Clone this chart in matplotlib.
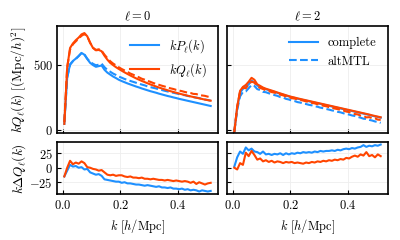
import numpy as np
import matplotlib
matplotlib.use("Agg")
import matplotlib.pyplot as plt
from matplotlib.lines import Line2D

# k bins [h/Mpc]
k = np.round(np.arange(0.005, 0.52, 0.01), 3)

# ell = 0, complete sample
kP0 = [45, 400, 505, 530, 548, 568, 592, 578, 545, 515, 498, 485, 490, 495, 462, 440, 425, 410,
       398, 385, 375, 366, 357, 349, 341, 333, 326, 318, 311, 304, 297, 291, 285, 278, 272, 266,
       260, 255, 249, 244, 238, 233, 228, 223, 218, 213, 208, 203, 198, 193, 188, 183]
kQ0 = [45, 480, 630, 665, 690, 710, 735, 745, 720, 670, 630, 612, 615, 605, 570, 540, 515, 498,
       482, 468, 455, 442, 430, 418, 407, 396, 386, 376, 367, 358, 349, 341, 333, 325, 318, 311,
       304, 297, 291, 285, 279, 273, 268, 262, 257, 252, 247, 242, 237, 232, 228, 224]
# complete - altMTL, ell = 0
dP0 = [-15, -5, 5, 2, 3, 0, 1, -3, -2, -8, -10, -12, -11, -14, -20, -21, -22, -23, -24, -24,
       -26, -25, -27, -27, -28, -29, -29, -30, -31, -30, -31, -32, -33, -32, -34, -34, -35, -34,
       -36, -36, -37, -36, -38, -37, -39, -38, -39, -41, -39, -40, -41, -40]
dQ0 = [-15, 0, 12, 6, 9, 7, 11, 8, 1, 0, -2, -3, -5, -4, -8, -12, -13, -12, -14, -13, -13, -15,
       -16, -15, -17, -17, -18, -17, -19, -19, -20, -19, -20, -21, -21, -22, -21, -22, -23, -22,
       -23, -24, -23, -24, -26, -24, -28, -25, -27, -29, -27, -26]

# ell = 2, complete sample
kP2 = [-15, 170, 285, 315, 330, 350, 378, 365, 340, 330, 320, 312, 305, 298, 291, 284, 277, 270,
       263, 256, 250, 245, 239, 234, 229, 224, 219, 214, 209, 204, 199, 194, 189, 184, 179, 174,
       169, 164, 159, 154, 149, 144, 139, 134, 129, 124, 119, 114, 108, 103, 98, 93]
kQ2 = [-15, 175, 300, 330, 345, 370, 400, 385, 350, 338, 325, 316, 309, 302, 295, 287, 280, 273,
       266, 259, 253, 248, 242, 237, 232, 227, 222, 217, 212, 207, 202, 197, 192, 187, 182, 177,
       172, 167, 162, 157, 152, 147, 142, 137, 132, 127, 122, 117, 111, 106, 101, 96]
# complete - altMTL, ell = 2
dP2 = [2, 18, 28, 24, 35, 30, 33, 28, 27, 24, 28, 23, 24, 22, 24, 23, 25, 22, 25, 23, 25, 24,
       26, 25, 27, 26, 27, 26, 28, 27, 29, 28, 29, 29, 30, 29, 31, 30, 32, 33, 32, 34, 33, 35,
       36, 39, 36, 38, 37, 39, 38, 40]
dQ2 = [0, -3, 8, 5, 26, 20, 29, 22, 14, 16, 11, 13, 10, 12, 9, 11, 10, 8, 10, 9, 10, 8, 9, 8,
       7, 9, 8, 10, 9, 11, 10, 12, 11, 13, 12, 14, 13, 15, 14, 17, 16, 19, 21, 19, 23, 21, 27,
       20, 22, 18, 23, 20]

blue = "#1E90FF"
orange = "#FF4500"

plt.rcParams["font.family"] = "serif"
plt.rcParams["font.serif"] = ["cmr10"]
plt.rcParams["mathtext.fontset"] = "cm"
plt.rcParams["axes.formatter.use_mathtext"] = True
plt.rcParams["font.size"] = 9

fig, axes = plt.subplots(2, 2, figsize=(4, 2.4), dpi=100, sharex=True,
                         gridspec_kw=dict(height_ratios=[107, 52]))
fig.subplots_adjust(left=0.1425, right=0.97, top=0.892, bottom=0.19, wspace=0.056, hspace=0.113)

data = [(kP0, kQ0, dP0, dQ0), (kP2, kQ2, dP2, dQ2)]
for j, (P, Q, dP, dQ) in enumerate(data):
    P = np.array(P, float)
    Q = np.array(Q, float)
    dP = np.array(dP, float)
    dQ = np.array(dQ, float)
    ax = axes[0, j]
    ax.plot(k, P, color=blue, lw=1.5, label=r"$kP_\ell(k)$")
    ax.plot(k, P - dP, color=blue, lw=1.5, ls="--")
    ax.plot(k, Q, color=orange, lw=1.5, label=r"$kQ_\ell(k)$")
    ax.plot(k, Q - dQ, color=orange, lw=1.5, ls="--")
    ax.set_ylim(-27, 800)
    ax.set_yticks([0, 500])
    ax.set_title(r"$\ell=%d$" % (2 * j), fontsize=9, pad=4)

    axb = axes[1, j]
    axb.plot(k, dP, color=blue, lw=1.5)
    axb.plot(k, dQ, color=orange, lw=1.5)
    axb.set_ylim(-46, 44)
    axb.set_yticks([-25, 0, 25])
    axb.set_xlabel(r"$k\ [h/\mathrm{Mpc}]$", fontsize=9)
    axb.set_xticks([0.0, 0.2, 0.4])

for ax in axes.flat:
    ax.grid(True, color="#eeeeee", lw=0.6)
    ax.tick_params(direction="in", length=3, width=0.8, labelsize=9, pad=3)
    for s in ax.spines.values():
        s.set_linewidth(1.2)

axes[0, 1].tick_params(labelleft=False)
axes[1, 1].tick_params(labelleft=False)

axes[0, 0].legend(loc="upper right", frameon=False, fontsize=9, handlelength=2.3)
h = [Line2D([], [], color=blue, lw=1.5), Line2D([], [], color=blue, lw=1.5, ls="--")]
axes[0, 1].legend(h, ["complete", "altMTL"], loc="upper right", frameon=False, fontsize=9,
                  handlelength=2.3)

axes[0, 0].set_ylabel(r"$kQ_\ell(k)\ [(\mathrm{Mpc}/h)^2]$", fontsize=9.5, labelpad=1)
axes[1, 0].set_ylabel(r"$k\Delta Q_\ell(k)$", fontsize=9.5, labelpad=1)
fig.align_ylabels(axes[:, 0])

fig.savefig("out.png", dpi=100)
